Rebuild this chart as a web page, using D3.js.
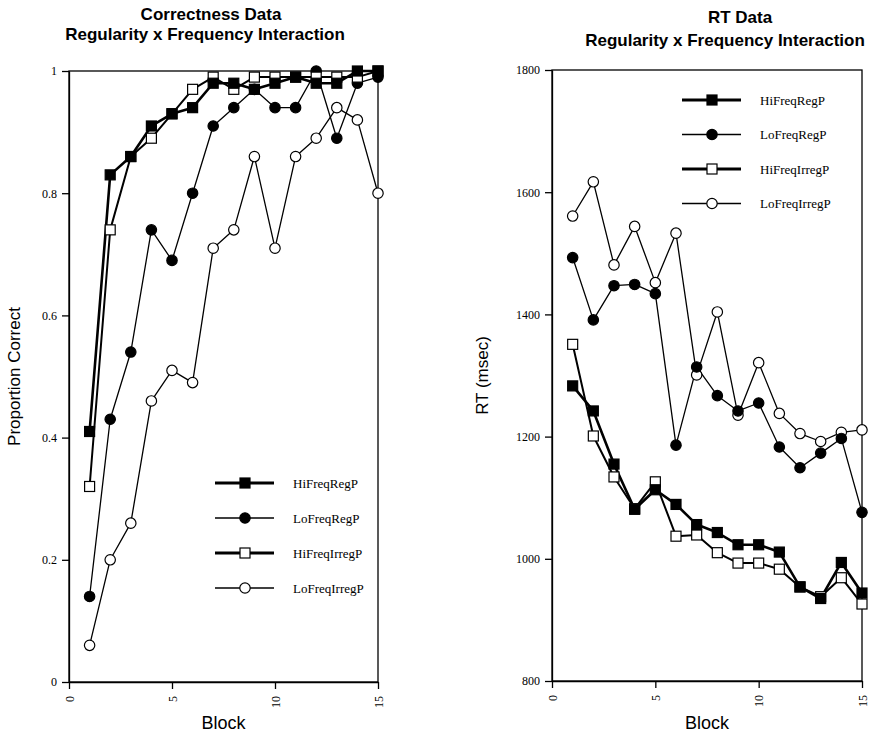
<!DOCTYPE html>
<html>
<head>
<meta charset="utf-8">
<script src="https://cdn.jsdelivr.net/npm/d3@7"></script>
<style>
  body { margin: 0; background: #fff; }
  svg { display: block; }
  .tick text { font-family: "Liberation Serif", "DejaVu Serif", serif; font-size: 12px; fill: #000; }
  .title { font-family: "Liberation Sans", Arial, sans-serif; font-weight: bold; font-size: 17px; }
  .axis-title { font-family: "Liberation Sans", Arial, sans-serif; font-size: 17px; }
  .x-title { font-size: 18px; }
  .legend text { font-family: "Liberation Serif", "DejaVu Serif", serif; font-size: 13px; }
</style>
</head>
<body>
<script>
// blocks 1..15
const blocks = d3.range(1, 16);
const seriesNames = ['HiFreqRegP', 'LoFreqRegP', 'HiFreqIrregP', 'LoFreqIrregP'];

// proportion correct
const accHiReg   = [0.41, 0.83, 0.86, 0.91, 0.93, 0.94, 0.98, 0.98, 0.97, 0.98, 0.99, 0.98, 0.98, 1.00, 1.00];
const accLoReg   = [0.14, 0.43, 0.54, 0.74, 0.69, 0.80, 0.91, 0.94, 0.97, 0.94, 0.94, 1.00, 0.89, 0.98, 0.99];
const accHiIrreg = [0.32, 0.74, 0.86, 0.89, 0.93, 0.97, 0.99, 0.97, 0.99, 0.99, 0.99, 0.99, 0.99, 0.99, 1.00];
const accLoIrreg = [0.06, 0.20, 0.26, 0.46, 0.51, 0.49, 0.71, 0.74, 0.86, 0.71, 0.86, 0.89, 0.94, 0.92, 0.80];

// reaction time (msec)
const rtHiReg   = [1283, 1242, 1155, 1081, 1113, 1089, 1056, 1043, 1023, 1023, 1011, 954, 935, 994, 944];
const rtLoReg   = [1493, 1391, 1447, 1449, 1434, 1186, 1314, 1267, 1242, 1255, 1183, 1149, 1173, 1197, 1076];
const rtHiIrreg = [1351, 1201, 1134, 1082, 1126, 1037, 1039, 1010, 993, 993, 983, 954, 938, 969, 926];
const rtLoIrreg = [1561, 1617, 1481, 1544, 1452, 1533, 1301, 1404, 1235, 1321, 1238, 1205, 1192, 1207, 1211];

const xTicks = [0, 5, 10, 15];
const accTicks = [0, 0.2, 0.4, 0.6, 0.8, 1];
const accTickLabels = ['0', '0.2', '0.4', '0.6', '0.8', '1'];
const rtTicks = [800, 1000, 1200, 1400, 1600, 1800];

// marker / line style per series
const styles = {
  HiFreqRegP:   { shape: 'square', fill: '#000', width: 2.6 },
  LoFreqRegP:   { shape: 'circle', fill: '#000', width: 1.3 },
  HiFreqIrregP: { shape: 'square', fill: '#fff', width: 2.0 },
  LoFreqIrregP: { shape: 'circle', fill: '#fff', width: 1.3 }
};

const svg = d3.select('body').append('svg').attr('width', 875).attr('height', 738);

function drawMarker(g, shape, fill, x, y) {
  if (shape === 'square') {
    g.append('rect').attr('x', x - 5).attr('y', y - 5).attr('width', 10).attr('height', 10)
      .attr('fill', fill).attr('stroke', '#000').attr('stroke-width', 1.2);
  } else {
    g.append('circle').attr('cx', x).attr('cy', y).attr('r', 5.2)
      .attr('fill', fill).attr('stroke', '#000').attr('stroke-width', 1.2);
  }
}

function panel(opts) {
  const { left, right, top, bottom, domain, ticks, tickLabels, data, titles, titleX, titleY, yTitle, yTitleX, legend } = opts;
  const x = d3.scaleLinear().domain([0, 15]).range([left, right]);
  const y = d3.scaleLinear().domain(domain).range([bottom, top]);
  const g = svg.append('g');

  // frame
  g.append('rect').attr('x', left).attr('y', top).attr('width', right - left).attr('height', bottom - top)
    .attr('fill', 'none').attr('stroke', '#000').attr('stroke-width', 1.3);

  const yAxis = g.append('g').attr('transform', `translate(${left},0)`)
    .call(d3.axisLeft(y).tickValues(ticks).tickSize(7).tickSizeOuter(0).tickPadding(5)
      .tickFormat((d, i) => tickLabels ? tickLabels[i] : d));
  const xAxis = g.append('g').attr('transform', `translate(0,${bottom})`)
    .call(d3.axisBottom(x).tickValues(xTicks).tickSize(7).tickSizeOuter(0));
  xAxis.selectAll('.tick text')
    .attr('transform', 'rotate(-90)')
    .attr('x', -14).attr('y', 0).attr('dy', '0.35em')
    .attr('text-anchor', 'end');
  [yAxis, xAxis].forEach(a => {
    a.selectAll('path,line').attr('stroke', '#000').attr('stroke-width', 1.3);
  });

  // series lines then markers
  const line = d3.line().x((d, i) => x(blocks[i])).y(d => y(d));
  const order = ['LoFreqIrregP', 'LoFreqRegP', 'HiFreqIrregP', 'HiFreqRegP'];
  order.forEach(name => {
    const s = styles[name];
    g.append('path').datum(data[name]).attr('d', line)
      .attr('fill', 'none').attr('stroke', '#000').attr('stroke-width', s.width)
      .attr('stroke-linejoin', 'round');
  });
  order.forEach(name => {
    const s = styles[name];
    const mg = g.append('g');
    data[name].forEach((v, i) => drawMarker(mg, s.shape, s.fill, x(blocks[i]), y(v)));
  });

  // titles
  titles.forEach((t, i) => {
    g.append('text').attr('class', 'title').attr('x', titleX[i]).attr('y', titleY[i])
      .attr('text-anchor', 'middle').text(t);
  });
  g.append('text').attr('class', 'axis-title x-title').attr('x', (left + right) / 2).attr('y', 729)
    .attr('text-anchor', 'middle').text('Block');
  g.append('text').attr('class', 'axis-title')
    .attr('transform', `translate(${yTitleX},${(top + bottom) / 2}) rotate(-90)`)
    .attr('text-anchor', 'middle').text(yTitle);

  // legend
  const lg = g.append('g').attr('class', 'legend');
  seriesNames.forEach((name, i) => {
    const s = styles[name];
    const ly = legend.y + i * legend.step;
    lg.append('line').attr('x1', legend.x).attr('x2', legend.x + 59).attr('y1', ly).attr('y2', ly)
      .attr('stroke', '#000').attr('stroke-width', s.width > 1.5 ? 3 : 1.3);
    drawMarker(lg, s.shape, s.fill, legend.x + 30, ly);
    lg.append('text').attr('x', legend.x + 78).attr('y', ly).attr('dy', '0.35em').text(name);
  });
}

panel({
  left: 69, right: 378, top: 71, bottom: 682,
  domain: [0, 1], ticks: accTicks, tickLabels: accTickLabels,
  data: { HiFreqRegP: accHiReg, LoFreqRegP: accLoReg, HiFreqIrregP: accHiIrreg, LoFreqIrregP: accLoIrreg },
  titles: ['Correctness Data', 'Regularity x Frequency Interaction'], titleX: [211, 205], titleY: [20, 40],
  yTitle: 'Proportion Correct', yTitleX: 20,
  legend: { x: 215, y: 483, step: 35 }
});

panel({
  left: 552, right: 862, top: 70, bottom: 681,
  domain: [800, 1800], ticks: rtTicks, tickLabels: null,
  data: { HiFreqRegP: rtHiReg, LoFreqRegP: rtLoReg, HiFreqIrregP: rtHiIrreg, LoFreqIrregP: rtLoIrreg },
  titles: ['RT Data', 'Regularity x Frequency Interaction'], titleX: [740, 725], titleY: [23, 46],
  yTitle: 'RT (msec)', yTitleX: 488,
  legend: { x: 682, y: 100, step: 34.5 }
});
</script>
</body>
</html>
